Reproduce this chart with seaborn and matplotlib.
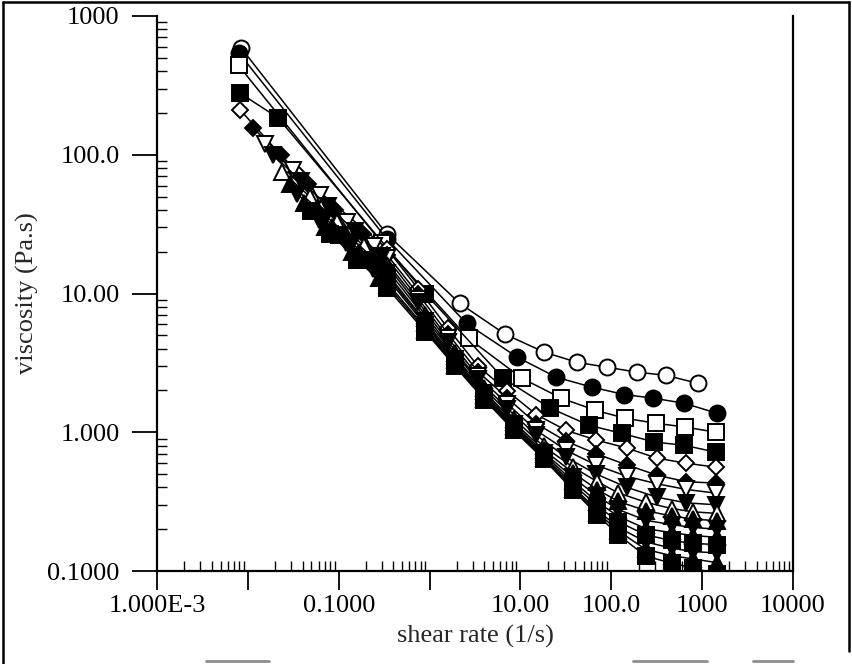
import matplotlib
matplotlib.use("Agg")
import matplotlib.pyplot as plt
import matplotlib.lines as mlines
import seaborn as sns
from matplotlib.ticker import FixedLocator, FixedFormatter, LogLocator, NullFormatter

# ---------------- data ----------------
s1_rate = [0.0084, 0.336, 2.14, 6.84, 18.4, 42.3, 90, 193, 402, 903]
s1_visc = [590, 27, 8.5, 5.07, 3.77, 3.19, 2.94, 2.71, 2.57, 2.25]

s2_rate = [0.0079, 0.336, 2.55, 9.27, 24.9, 61.8, 139, 290, 631, 1462]
s2_visc = [545, 24.9, 6.08, 3.47, 2.49, 2.11, 1.87, 1.76, 1.62, 1.37]

s3_rate = [0.0079, 0.30, 2.69, 10.5, 28.2, 66.7, 143, 313, 650, 1426]
s3_visc = [440, 23, 4.74, 2.44, 1.76, 1.44, 1.26, 1.16, 1.09, 1.00]

s4_rate = [0.0082, 0.0214, 0.9, 6.5, 21.4, 57.3, 132, 297, 631, 1426]
s4_visc = [278, 185, 10, 2.44, 1.49, 1.12, 0.98, 0.85, 0.806, 0.718]

rate_hi_a = [0.75, 1.6, 3.4, 7.2, 15, 32, 68, 150, 320, 667, 1426]
rate_hi_b = [0.9, 1.9, 4.0, 8.5, 18, 38, 70, 120, 240, 460, 800, 1450]

s5_rate = [0.0082, 0.034, 0.34] + rate_hi_a
s5_visc = [211, 75, 21, 10.8, 5.6, 3.0, 1.98, 1.34, 1.03, 0.88, 0.767, 0.65, 0.598, 0.56]

s6_rate = [0.0114, 0.023, 0.046, 0.092, 0.185, 0.34] + rate_hi_a
s6_visc = [156, 100, 62, 40, 27, 19, 9.9, 5.1, 2.74, 1.76, 1.15, 0.86, 0.70, 0.58, 0.49, 0.44, 0.43]

s7_rate = [0.0154, 0.031, 0.062, 0.123, 0.246, 0.34] + rate_hi_a
s7_visc = [120, 78, 51, 33, 22, 18, 9.2, 4.76, 2.54, 1.60, 1.03, 0.74, 0.58, 0.48, 0.425, 0.387, 0.364]

s8_rate = [0.019, 0.038, 0.076, 0.152, 0.30] + rate_hi_a
s8_visc = [100, 65, 43, 28, 18.5, 8.7, 4.5, 2.4, 1.48, 0.95, 0.66, 0.50, 0.40, 0.34, 0.31, 0.30]

s9_rate = [0.024, 0.048, 0.096, 0.19, 0.34] + rate_hi_b
s9_visc = [75, 50, 33, 22, 16, 7.0, 3.7, 2.07, 1.25, 0.79, 0.56, 0.44, 0.365, 0.313, 0.282, 0.267, 0.26]

s10_rate = [0.029, 0.058, 0.116, 0.23, 0.34] + rate_hi_b
s10_visc = [62, 41, 27.5, 18.5, 15, 6.65, 3.53, 1.97, 1.18, 0.745, 0.51, 0.386, 0.317, 0.272, 0.249, 0.237, 0.23]

s11_rate = [0.035, 0.07, 0.14, 0.28, 0.34] + rate_hi_b
s11_visc = [52, 35, 23, 15.5, 14, 6.3, 3.4, 1.91, 1.14, 0.714, 0.472, 0.346, 0.277, 0.232, 0.216, 0.206, 0.20]

s12_rate = [0.042, 0.084, 0.168, 0.34] + rate_hi_b
s12_visc = [45, 30, 20, 13.5, 6.1, 3.3, 1.86, 1.11, 0.693, 0.443, 0.315, 0.247, 0.202, 0.189, 0.18, 0.175]

s13_rate = [0.05, 0.1, 0.2, 0.34] + rate_hi_b
s13_visc = [39, 26.5, 17.5, 13, 5.9, 3.2, 1.82, 1.085, 0.673, 0.422, 0.295, 0.226, 0.182, 0.166, 0.158, 0.155]

s14_rate = [0.06, 0.12, 0.24, 0.34] + rate_hi_b
s14_visc = [34, 23, 15, 12, 5.65, 3.13, 1.79, 1.06, 0.662, 0.403, 0.274, 0.206, 0.162, 0.146, 0.138, 0.135]

s15_rate = [0.07, 0.14, 0.28, 0.34] + rate_hi_b
s15_visc = [30, 20, 13, 11.5, 5.47, 3.06, 1.75, 1.04, 0.65, 0.393, 0.264, 0.194, 0.143, 0.129, 0.122, 0.115]

s16_rate = [0.08, 0.16, 0.34] + rate_hi_b
s16_visc = [27, 17.5, 11, 5.3, 2.99, 1.72, 1.03, 0.64, 0.383, 0.254, 0.182, 0.128, 0.114, 0.105, 0.095]

series_rates = [s1_rate, s2_rate, s3_rate, s4_rate, s5_rate, s6_rate, s7_rate, s8_rate,
                s9_rate, s10_rate, s11_rate, s12_rate, s13_rate, s14_rate, s15_rate, s16_rate]
series_viscs = [s1_visc, s2_visc, s3_visc, s4_visc, s5_visc, s6_visc, s7_visc, s8_visc,
                s9_visc, s10_visc, s11_visc, s12_visc, s13_visc, s14_visc, s15_visc, s16_visc]
series_markers = ['o', 'o', 's', 's', 'D', 'D', 'v', 'v',
                  '^', '^', 'v', '^', 's', 'v', '^', 's']
series_filled = [False, True, False, True, False, True, False, True,
                 False, True, True, True, True, True, True, True]

x_tick_values = [1e-3, 1e-2, 1e-1, 1e0, 1e1, 1e2, 1e3, 1e4]
x_tick_labels = ["1.000E-3", "", "0.1000", "", "10.00", "100.0", "1000", "10000"]
y_tick_values = [0.1, 1, 10, 100, 1000]
y_tick_labels = ["0.1000", "1.000", "10.00", "100.0", "1000"]

# ---------------- styling ----------------
sns.set_theme(style="ticks")
plt.rcParams['font.family'] = ['Liberation Serif', 'DejaVu Serif']
plt.rcParams['font.size'] = 19

fig = plt.figure(figsize=(8.52, 6.64), dpi=100)
ax = fig.add_axes([157 / 852, 1 - 571 / 664, (793 - 157) / 852, (571 - 16) / 664])

marker_sizes = {'o': 11.5, 's': 11, 'D': 8.5, 'v': 11, '^': 11}

for rate, visc, m, filled in zip(series_rates, series_viscs, series_markers, series_filled):
    sns.lineplot(x=rate, y=visc, ax=ax, sort=False, estimator=None, legend=False,
                 color='black', linewidth=1.1, marker=m, markersize=marker_sizes[m],
                 markerfacecolor='black' if filled else 'white',
                 markeredgecolor='black', markeredgewidth=1.4)

ax.set_xscale('log')
ax.set_yscale('log')
ax.set_xlim(1e-3, 1e4)
ax.set_ylim(0.1, 1000)

ax.xaxis.set_major_locator(FixedLocator(x_tick_values))
ax.xaxis.set_major_formatter(FixedFormatter(x_tick_labels))
ax.yaxis.set_major_locator(FixedLocator(y_tick_values))
ax.yaxis.set_major_formatter(FixedFormatter(y_tick_labels))
ax.xaxis.set_minor_locator(LogLocator(base=10, subs=range(2, 10), numticks=50))
ax.yaxis.set_minor_locator(LogLocator(base=10, subs=range(2, 10), numticks=50))
ax.xaxis.set_minor_formatter(NullFormatter())
ax.yaxis.set_minor_formatter(NullFormatter())

ax.tick_params(axis='x', which='major', direction='out', length=14, width=1.3,
               colors='black', labelsize=19, pad=3)
ax.tick_params(axis='y', which='major', direction='out', length=18, width=1.3,
               colors='black', labelsize=19, pad=9)
ax.tick_params(axis='both', which='minor', direction='in', length=7, width=1.0, colors='black')
ax.tick_params(axis='both', which='both', top=False, right=False)

for side in ['left', 'bottom', 'right']:
    ax.spines[side].set_visible(True)
    ax.spines[side].set_color('black')
    ax.spines[side].set_linewidth(1.6)
ax.spines['top'].set_visible(False)

ax.set_xlabel("shear rate (1/s)", fontsize=19, labelpad=6)
ax.set_ylabel("viscosity (Pa.s)", fontsize=19, labelpad=6)
ax.grid(False)
ax.set_facecolor('white')

# outer scan frame
for (xs, ys) in [([0.004, 0.004], [0.0, 0.997]), ([0.004, 0.996], [0.997, 0.997]),
                 ([0.996, 0.996], [0.02, 0.997])]:
    fig.add_artist(mlines.Line2D(xs, ys, transform=fig.transFigure, color='black', lw=1.8))
for (x0, x1) in [(206, 269), (633, 707), (753, 793)]:
    fig.add_artist(mlines.Line2D([x0 / 852, x1 / 852], [0.004, 0.004], transform=fig.transFigure,
                                 color='0.55', lw=2.0))

fig.savefig("out.png", dpi=100, facecolor='white')
